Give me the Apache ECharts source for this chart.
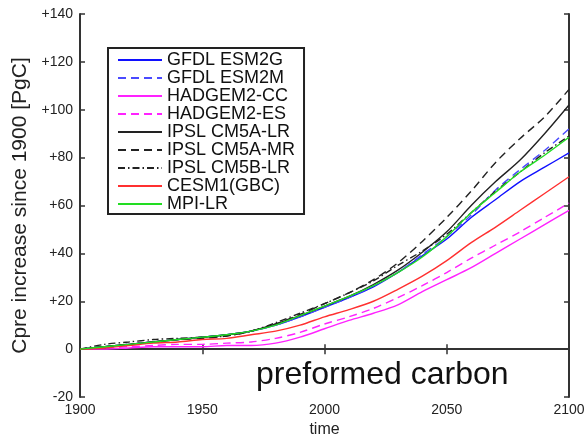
<!DOCTYPE html>
<html>
<head>
<meta charset="utf-8">
<script src="https://cdn.jsdelivr.net/npm/echarts@6/dist/echarts.min.js"></script>
<style>
  html, body { margin: 0; padding: 0; background: #fff; }
  #chart { width: 586px; height: 435px; }
</style>
</head>
<body>
<div id="chart"></div>
<script>
// values, every 10 years
const years = [1900, 1910, 1920, 1930, 1940, 1950, 1960, 1970, 1980, 1990, 2000, 2010, 2020, 2030, 2040, 2050, 2060, 2070, 2080, 2090, 2100];
const gfdlEsm2g = [0, 1, 2, 3, 4, 5, 6, 7.5, 10, 13.5, 17.5, 21.5, 26, 32, 39, 46, 55, 62.5, 70, 76, 82];
const gfdlEsm2m = [0, 1, 2, 3, 4, 5, 6, 7.5, 10, 13.5, 17.5, 21.5, 26.5, 32, 39.5, 47, 56, 66.5, 75, 83, 92];
const hadgem2Cc = [0, 0, 0.5, 1, 1, 1, 1.5, 1.5, 2.5, 5, 8.5, 12, 15, 18.5, 24, 29, 34, 40, 46, 52, 58];
const hadgem2Es = [0, 0.5, 1, 1.5, 2, 2, 2.5, 3, 4.5, 7, 10.5, 13.5, 17, 21.5, 26.5, 32, 38, 43.5, 49, 55, 61];
const ipslCm5aLr = [0, 1, 2, 3, 4, 5, 6, 7.5, 10.5, 14, 18, 22, 27, 33, 40.5, 49, 60, 70, 79, 90, 102];
const ipslCm5aMr = [0, 1, 2, 3, 4, 4.5, 5.5, 7.5, 10.5, 14.5, 19, 23.5, 29, 36, 45, 55, 66, 78, 88, 97, 108.5];
const ipslCm5bLr = [0, 2, 3, 4, 4.5, 5, 5.5, 7.5, 11, 15, 19, 23.5, 28.5, 35, 41, 48, 57, 66, 74, 82, 89];
const cesm1Gbc = [0, 0.5, 1.5, 2.5, 3, 4, 4.5, 6, 7.5, 10, 13.5, 16.5, 20, 25, 30.5, 37, 44.5, 51, 58, 65, 72];
const mpiLr = [0, 1, 2, 3, 4, 5, 6, 7.5, 10, 14, 18, 22, 26.5, 32, 38.5, 47, 57, 65.5, 74, 81, 88.5];
const yTicks = [-20, 0, 20, 40, 60, 80, 100, 120, 140];

const models = [
  { name: 'GFDL ESM2G', data: gfdlEsm2g, color: '#1010ff', type: 'solid' },
  { name: 'GFDL ESM2M', data: gfdlEsm2m, color: '#4a4aff', type: [8, 5] },
  { name: 'HADGEM2-CC', data: hadgem2Cc, color: '#ff22ff', type: 'solid' },
  { name: 'HADGEM2-ES', data: hadgem2Es, color: '#ff22ff', type: [8, 5] },
  { name: 'IPSL CM5A-LR', data: ipslCm5aLr, color: '#222222', type: 'solid' },
  { name: 'IPSL CM5A-MR', data: ipslCm5aMr, color: '#222222', type: [8, 5] },
  { name: 'IPSL CM5B-LR', data: ipslCm5bLr, color: '#222222', type: [7, 3, 1.5, 3] },
  { name: 'CESM1(GBC)', data: cesm1Gbc, color: '#ff3030', type: 'solid' },
  { name: 'MPI-LR', data: mpiLr, color: '#22dd22', type: 'solid' }
];

const font = 'Liberation Sans, Arial, sans-serif';
const axisLine = { lineStyle: { color: '#333', width: 2 } };
const axisTick = { inside: true, length: 5, lineStyle: { color: '#333', width: 1.5 } };

const chart = echarts.init(document.getElementById('chart'));

const option = {
  animation: false,
  textStyle: { fontFamily: font },
  grid: { left: 80, right: 17, top: 14, bottom: 38, outerBoundsMode: 'none' },
  legend: {
    orient: 'vertical',
    left: 108,
    top: 48,
    padding: [3, 9, 1, 9],
    itemWidth: 44,
    itemHeight: 12,
    itemGap: 0,
    borderColor: '#222',
    borderWidth: 2,
    itemStyle: { opacity: 0 },
    textStyle: { fontFamily: font, fontSize: 18, color: '#111', lineHeight: 17.8 },
    data: models.map(m => m.name)
  },
  xAxis: [{
    type: 'value',
    min: 1900,
    max: 2100,
    interval: 50,
    name: 'time',
    nameLocation: 'middle',
    nameGap: 24,
    nameTextStyle: { fontSize: 16, color: '#222' },
    axisLine: axisLine,
    axisTick: axisTick,
    splitLine: { show: false },
    axisLabel: { fontSize: 14, color: '#222', margin: 6, formatter: v => String(v) }
  }, {
    type: 'value',
    position: 'top',
    min: 1900,
    max: 2100,
    interval: 50,
    axisLine: axisLine,
    axisTick: axisTick,
    splitLine: { show: false },
    axisLabel: { show: false }
  }],
  yAxis: [{
    type: 'value',
    min: yTicks[0],
    max: yTicks[yTicks.length - 1],
    interval: 20,
    name: 'Cpre increase since 1900 [PgC]',
    nameLocation: 'middle',
    nameGap: 44,
    nameTextStyle: { fontSize: 21, color: '#222' },
    axisLine: axisLine,
    axisTick: axisTick,
    splitLine: { show: false },
    axisLabel: {
      fontSize: 14,
      color: '#222',
      margin: 7,
      formatter: v => (v > 0 ? '+' + v : String(v))
    }
  }, {
    type: 'value',
    position: 'right',
    min: yTicks[0],
    max: yTicks[yTicks.length - 1],
    interval: 20,
    axisLine: axisLine,
    axisTick: axisTick,
    splitLine: { show: false },
    axisLabel: { show: false }
  }],
  graphic: [{
    type: 'text',
    left: 256,
    top: 359,
    style: { text: 'preformed carbon', font: '32px ' + font, fill: '#111' }
  }],
  series: models.map(m => ({
    name: m.name,
    type: 'line',
    data: years.map((y, i) => [y, m.data[i]]),
    showSymbol: false,
    symbol: 'none',
    smooth: 0.3,
    itemStyle: { color: m.color },
    lineStyle: { color: m.color, width: 1.4, type: m.type }
  }))
};

chart.setOption(option);
</script>
</body>
</html>
